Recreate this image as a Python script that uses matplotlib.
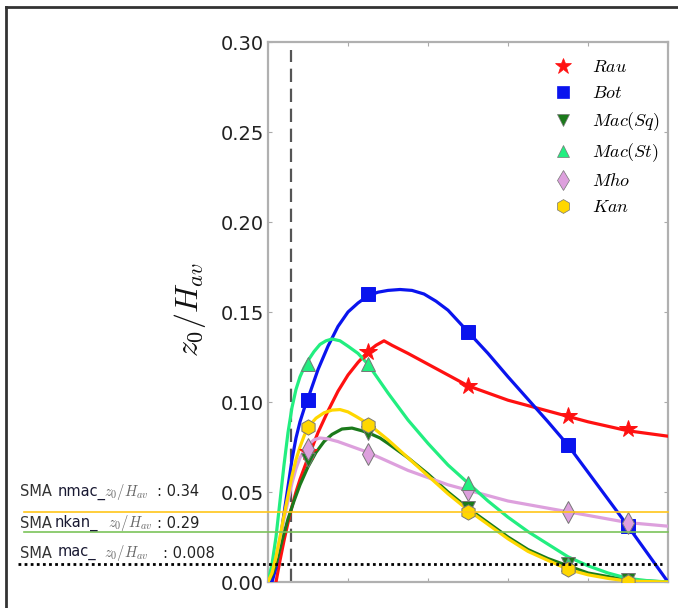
import matplotlib
matplotlib.use("Agg")
import matplotlib.pyplot as plt
from matplotlib.lines import Line2D

plt.rcParams['mathtext.fontset'] = 'cm'

# measured points (marker positions)
lam = [0.1, 0.25, 0.5, 0.75, 0.9]
rau = [0.072, 0.128, 0.109, 0.092, 0.085]
bot = [0.101, 0.160, 0.139, 0.076, 0.031]
mac_sq = [0.068, 0.083, 0.041, 0.010, 0.001]
mac_st = [0.121, 0.121, 0.055, 0.010, 0.001]
mho = [0.074, 0.071, 0.051, 0.039, 0.033]
kan = [0.086, 0.087, 0.039, 0.007, 0.000]

# fitted curves
rau_fx = [0.02, 0.03, 0.04, 0.05, 0.06, 0.07, 0.08, 0.09, 0.1, 0.125, 0.15, 0.175, 0.2, 0.225, 0.25, 0.27,
          0.29, 0.31, 0.35, 0.4, 0.45, 0.5, 0.55, 0.6, 0.65, 0.7, 0.75, 0.8, 0.85, 0.9, 0.95, 1.0]
rau_fy = [0.0, 0.012, 0.023, 0.033, 0.042, 0.050, 0.057, 0.063, 0.069, 0.083, 0.095, 0.106, 0.115, 0.122, 0.128,
          0.1315, 0.134, 0.1315, 0.127, 0.121, 0.115, 0.109, 0.105, 0.101, 0.098, 0.095, 0.092, 0.089, 0.0865,
          0.084, 0.0825, 0.081]
bot_fx = [0.0, 0.01, 0.02, 0.03, 0.04, 0.05, 0.06, 0.07, 0.08, 0.09, 0.1, 0.125, 0.15, 0.175, 0.2, 0.225, 0.25,
          0.275, 0.3, 0.33, 0.36, 0.39, 0.42, 0.45, 0.5, 0.55, 0.6, 0.7, 0.75, 0.8, 0.9, 1.0]
bot_fy = [0.0, 0.0, 0.008, 0.022, 0.038, 0.053, 0.068, 0.080, 0.089, 0.096, 0.102, 0.118, 0.131, 0.142, 0.150,
          0.155, 0.159, 0.161, 0.162, 0.1625, 0.162, 0.160, 0.156, 0.151, 0.139, 0.127, 0.114, 0.089, 0.076,
          0.061, 0.031, 0.0]
macsq_fx = [0.0, 0.01, 0.02, 0.035, 0.05, 0.065, 0.08, 0.1, 0.12, 0.14, 0.16, 0.185, 0.21, 0.235, 0.26, 0.28,
            0.3, 0.35, 0.4, 0.45, 0.5, 0.55, 0.6, 0.65, 0.7, 0.75, 0.8, 0.85, 0.9, 1.0]
macsq_fy = [0.0, 0.004, 0.01, 0.023, 0.035, 0.045, 0.054, 0.064, 0.072, 0.078, 0.082, 0.085, 0.0855, 0.084,
            0.082, 0.080, 0.077, 0.069, 0.060, 0.050, 0.041, 0.033, 0.025, 0.018, 0.013, 0.009, 0.005, 0.003,
            0.001, 0.0]
macst_fx = [0.0, 0.01, 0.02, 0.03, 0.04, 0.05, 0.06, 0.07, 0.08, 0.09, 0.1, 0.115, 0.13, 0.145, 0.16, 0.18,
            0.2, 0.225, 0.25, 0.3, 0.35, 0.4, 0.45, 0.5, 0.55, 0.6, 0.65, 0.7, 0.75, 0.8, 0.85, 0.9, 0.95, 1.0]
macst_fy = [0.0, 0.010, 0.025, 0.045, 0.065, 0.083, 0.097, 0.107, 0.114, 0.119, 0.123, 0.128, 0.132, 0.134,
            0.135, 0.134, 0.131, 0.127, 0.121, 0.105, 0.090, 0.077, 0.065, 0.055, 0.045, 0.036, 0.028, 0.021,
            0.014, 0.009, 0.005, 0.002, 0.0007, 0.0]
mho_fx = [0.0, 0.02, 0.04, 0.06, 0.07, 0.08, 0.09, 0.1, 0.115, 0.13, 0.15, 0.175, 0.2, 0.25, 0.3, 0.35, 0.4,
          0.45, 0.5, 0.6, 0.7, 0.8, 0.9, 1.0]
mho_fy = [0.0, 0.014, 0.035, 0.055, 0.063, 0.069, 0.073, 0.076, 0.079, 0.080, 0.0795, 0.078, 0.076, 0.072,
          0.067, 0.062, 0.058, 0.054, 0.051, 0.045, 0.041, 0.037, 0.033, 0.031]
kan_fx = [0.0, 0.01, 0.02, 0.03, 0.04, 0.05, 0.06, 0.07, 0.08, 0.09, 0.1, 0.12, 0.14, 0.16, 0.18, 0.2, 0.22,
          0.25, 0.3, 0.35, 0.4, 0.45, 0.5, 0.55, 0.6, 0.65, 0.7, 0.75, 0.8, 0.85, 0.9, 1.0]
kan_fy = [0.0, 0.005, 0.014, 0.025, 0.037, 0.048, 0.059, 0.068, 0.075, 0.081, 0.086, 0.091, 0.094, 0.0955,
          0.0958, 0.0945, 0.092, 0.088, 0.079, 0.069, 0.059, 0.049, 0.040, 0.032, 0.024, 0.017, 0.012, 0.007,
          0.004, 0.002, 0.0005, 0.0]

names = ['$Rau$', '$Bot$', '$Mac(Sq)$', '$Mac(St)$', '$Mho$', '$Kan$']
colors = ['#ff1111', '#0a14ee', '#1b7a1b', '#22ee80', '#dda0dd', '#ffd700']
markers = ['*', 's', 'v', '^', 'd', 'h']
msizes = [13, 10, 10, 10, 11, 11]

# SMA reference levels
sma_labels = ['nmac_', 'nkan_', 'mac_']
sma_vals = ['0.34', '0.29', '0.008']
sma_y = [0.039, 0.028, 0.010]
sma_colors = ['#ffc61a', '#7cc45a', 'black']

dash_x = 0.0575

fig = plt.figure(figsize=(6.78, 6.08), dpi=100)
ax = fig.add_axes([268/678, 1-582/608, 400/678, 540/608])

curves = [(rau_fx, rau_fy, rau), (bot_fx, bot_fy, bot), (macsq_fx, macsq_fy, mac_sq),
          (mho_fx, mho_fy, mho), (macst_fx, macst_fy, mac_st), (kan_fx, kan_fy, kan)]
order = [0, 1, 2, 4, 3, 5]
for i, (fx, fy, pts) in zip(order, curves):
    ax.plot(fx, fy, color=colors[i], lw=2.3, zorder=3, solid_capstyle='round', solid_joinstyle='round')
    ax.plot(lam, pts, ls='none', marker=markers[i], ms=msizes[i], color=colors[i],
            mec='#777777' if i in (2, 3, 4, 5) else colors[i], mew=0.7, zorder=4)

ax.axvline(dash_x, color='#555555', lw=1.6, dashes=(6, 3), ymax=0.985, zorder=2)

# horizontal SMA lines running out to the left
tr = ax.get_yaxis_transform()
ax.plot([-0.61, 1.0], [sma_y[0]] * 2, transform=tr, color=sma_colors[0], lw=1.2, clip_on=False, zorder=5)
ax.plot([-0.61, 1.0], [sma_y[1]] * 2, transform=tr, color=sma_colors[1], lw=1.2, clip_on=False, zorder=5)
ax.plot([-0.625, 0.985], [sma_y[2]] * 2, transform=tr, color=sma_colors[2], lw=2.0, ls=(0, (1, 1.2)),
        clip_on=False, zorder=5)

ax.set_xlim(0, 1.0)
ax.set_ylim(0, 0.30)
ax.set_xticks([0, 0.2, 0.4, 0.6, 0.8, 1.0])
ax.set_xticklabels([])
ax.set_yticks([0, 0.05, 0.10, 0.15, 0.20, 0.25, 0.30])
ax.set_yticklabels(['0.00', '0.05', '0.10', '0.15', '0.20', '0.25', '0.30'])
ax.tick_params(direction='in', top=True, right=True, length=3, color='#aaaaaa',
               labelsize=14, pad=3, labelcolor='#222222')
for s in ax.spines.values():
    s.set_color('#b0b0b0')
    s.set_linewidth(1.6)

handles = [Line2D([], [], ls='none', marker=markers[i], ms=msizes[i] - 1, color=colors[i],
                  mec=colors[i] if i < 2 else '#777777', mew=0.5) for i in range(6)]
ax.legend(handles, names, loc='upper right', bbox_to_anchor=(1.02, 1.0), frameon=False,
          fontsize=13, labelspacing=0.45, handletextpad=0.6, numpoints=1)

fig.text(190/678, 1-310/608, '$z_0/H_{av}$', rotation=90, fontsize=23,
         ha='center', va='center', color='#111111')

text_y = [492, 523, 553]
for k in range(3):
    yy = 1 - text_y[k]/608
    fig.text(20/678, yy, 'SMA', fontsize=10.5, color='#333333', va='center')
    fig.text((58 if k != 1 else 55)/678, yy, sma_labels[k], fontsize=10.5, color='#1a1a33', va='center')
    fig.text((104 if k != 1 else 108)/678, yy, '$z_0/H_{av}$', fontsize=10.5, color='#666666', va='center')
    fig.text((157 if k != 2 else 163)/678, yy, ': ' + sma_vals[k], fontsize=10.5, color='#222222', va='center')

# outer frame (left and top edges)
fig.add_artist(Line2D([6/678, 6/678], [0, 1-7/608], transform=fig.transFigure, color='#333333', lw=2))
fig.add_artist(Line2D([6/678, 1], [1-7/608, 1-7/608], transform=fig.transFigure, color='#333333', lw=2))

fig.savefig('out.png', dpi=100)
